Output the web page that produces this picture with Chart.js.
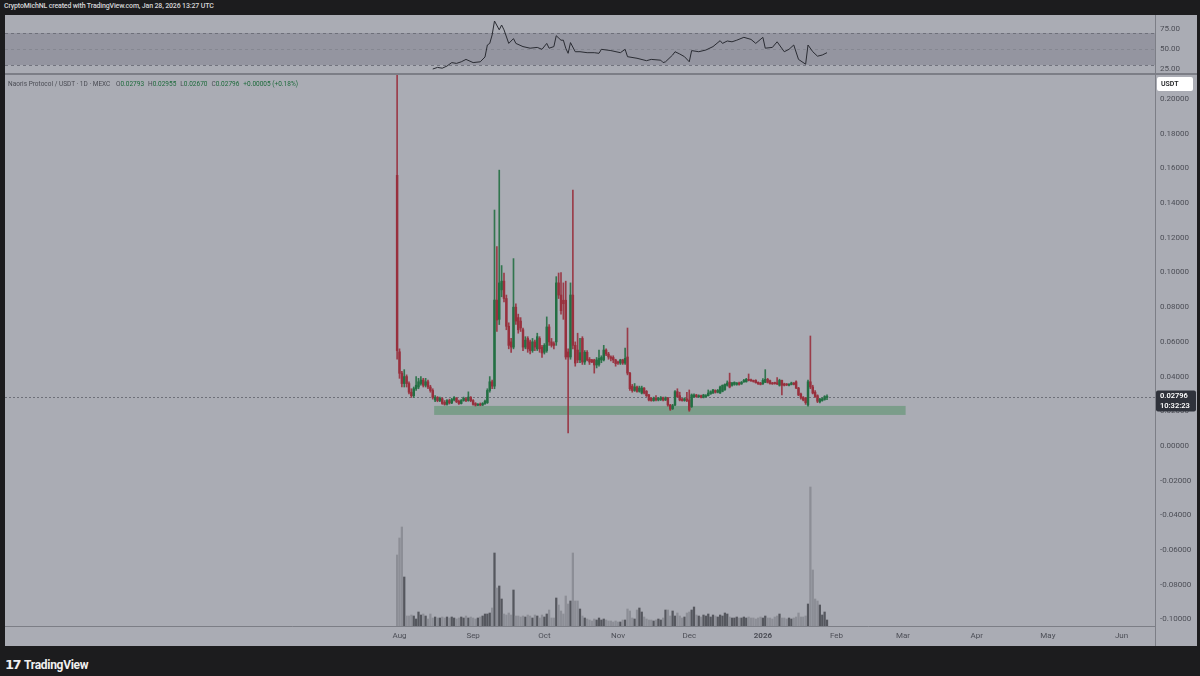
<!DOCTYPE html>
<html>
<head>
<meta charset="utf-8">
<script src="https://cdn.jsdelivr.net/npm/chart.js@4.4.1/dist/chart.umd.min.js"></script>
<style>
html,body{margin:0;padding:0;background:#1c1c1e;width:1200px;height:676px;overflow:hidden;font-family:Roboto,'Liberation Sans',sans-serif;}
#hdr{position:absolute;left:4px;top:2px;font-size:7px;letter-spacing:-0.15px;color:#d6d6d8;font-weight:500;white-space:nowrap;}
#rsiWrap{position:absolute;left:5px;top:15px;width:1192px;height:58px;}
#sep{position:absolute;left:5px;top:73px;width:1192px;height:2px;background:#7c7e86;}
#mainWrap{position:absolute;left:5px;top:75px;width:1192px;height:571px;}
#legend{position:absolute;left:8px;top:80px;font-size:6.5px;color:#4a4c54;white-space:nowrap;}
#legend .g{color:#1d6a3b;}
#legend .sp{display:inline-block;width:4px;}
#footer{position:absolute;left:5px;top:654px;color:#f0f0f0;white-space:nowrap;}
#footer .logo{font-family:'DejaVu Sans',sans-serif;font-weight:bold;font-size:13px;letter-spacing:-1.5px;vertical-align:middle;}
#footer .name{font-family:Roboto,sans-serif;font-weight:700;font-size:12px;letter-spacing:-0.3px;vertical-align:middle;margin-left:4px;}
canvas{display:block;}
</style>
</head>
<body>
<div id="hdr">CryptoMichNL created with TradingView.com, Jan 28, 2026 13:27 UTC</div>
<div id="rsiWrap"><canvas id="rsi" width="1192" height="58" style="width:1192px;height:58px"></canvas></div>
<div id="sep"></div>
<div id="mainWrap"><canvas id="main" width="1192" height="571" style="width:1192px;height:571px"></canvas></div>
<div id="legend">Naoris Protocol / USDT · 1D · MEXC<span class="sp"></span> O<span class="g">0.02793</span><span class="sp"></span>H<span class="g">0.02955</span><span class="sp"></span>L<span class="g">0.02670</span><span class="sp"></span>C<span class="g">0.02796</span><span class="sp"></span><span class="g">+0.00005 (+0.18%)</span></div>
<div id="footer"><span class="logo">17</span><span class="name">TradingView</span></div>
<script>
// ---------- DATA (daily candles, Jul 31 2025 .. Jan 28 2026; day 0 = Aug 1 2025) ----------
const firstDay = -1;
const open = [
 .156,.0543,.042,.036,.040,.036,.031,.029,.033,.034,
 .036,.038,.035,.037,.034,.032,.0265,.028,.0262,.0272,
 .0252,.024,.0262,.0248,.0266,.0275,.0258,.0245,.0262,.0272,
 .0262,.028,.0262,.0245,.0235,.0242,.0236,.0245,.025,.032,
 .037,.0345,.0841,.073,.090,.095,.085,.069,.060,.057,
 .080,.074,.072,.067,.057,.062,.060,.055,.060,.056,
 .062,.057,.054,.055,.0686,.060,.059,.060,.094,.087,
 .084,.084,.0542,.0513,.087,.058,.0553,.0496,.062,.0484,
 .054,.050,.0496,.0496,.0467,.047,.0496,.0496,.0553,.053,
 .0513,.051,.0496,.0484,.0478,.0496,.0478,.0513,.042,.0345,
 .032,.034,.0315,.0305,.0334,.0315,.0294,.0275,.0262,.0275,
 .0265,.0268,.0277,.0265,.0277,.0236,.0215,.0236,.0313,.029,
 .027,.0262,.0272,.0265,.0227,.0284,.0294,.0284,.029,.028,
 .0284,.029,.030,.0305,.032,.031,.0305,.0315,.0325,.035,
 .0368,.035,.0355,.0355,.0363,.0358,.037,.037,.0384,.038,
 .0376,.0378,.0367,.0363,.0358,.0367,.0384,.0376,.0363,.0365,
 .0363,.035,.0378,.0358,.0356,.035,.0355,.0363,.037,.0334,
 .030,.028,.0275,.0236,.037,.034,.031,.029,.0255,.0262,
 .0268,.02793
];
const high = [
 .22,.056,.043,.044,.041,.037,.033,.034,.040,.039,
 .040,.039,.039,.038,.035,.033,.029,.0285,.0282,.0278,
 .0262,.0268,.027,.0275,.0285,.028,.0265,.0268,.0282,.0278,
 .0312,.0285,.0268,.025,.0245,.0248,.025,.0265,.033,.040,
 .038,.136,.115,.159,.104,.0997,.087,.071,.062,.108,
 .082,.076,.074,.068,.063,.063,.061,.062,.061,.065,
 .063,.058,.059,.0744,.070,.062,.060,.0976,.0997,.100,
 .094,.095,.056,.094,.1475,.060,.065,.062,.063,.055,
 .055,.051,.050,.050,.051,.0553,.052,.058,.056,.054,
 .052,.052,.050,.049,.050,.050,.0565,.068,.0425,.0355,
 .036,.0345,.0345,.0345,.0336,.032,.0298,.028,.0282,.029,
 .028,.0285,.0282,.0283,.028,.024,.024,.032,.033,.031,
 .0275,.0278,.031,.0323,.030,.030,.0298,.0295,.0293,.0298,
 .0296,.0323,.0318,.0326,.0324,.0326,.0345,.0352,.0358,.0375,
 .042,.0367,.037,.0366,.0368,.0372,.0384,.039,.0415,.0386,
 .038,.0382,.037,.0367,.0388,.044,.039,.038,.0367,.0368,
 .0395,.0385,.038,.0362,.036,.036,.0368,.0366,.0375,.0338,
 .0305,.0285,.028,.038,.0634,.035,.032,.0295,.0275,.0278,
 .029,.02955
];
const low = [
 .050,.039,.034,.034,.034,.030,.028,.028,.032,.033,
 .035,.034,.034,.033,.031,.027,.0255,.0255,.0255,.024,
 .0235,.0236,.0242,.0244,.026,.025,.024,.0242,.0258,.0255,
 .0258,.0255,.0235,.023,.0232,.0232,.0233,.024,.0245,.031,
 .033,.033,.066,.070,.086,.083,.067,.056,.054,.056,
 .070,.065,.066,.055,.056,.054,.053,.054,.055,.055,
 .054,.051,.053,.054,.058,.057,.056,.058,.085,.076,
 .073,.050,.0075,.050,.056,.046,.048,.048,.047,.047,
 .049,.047,.048,.042,.045,.046,.048,.049,.052,.050,
 .049,.048,.046,.047,.047,.047,.047,.041,.032,.031,
 .0315,.031,.031,.030,.030,.0285,.026,.0258,.0258,.026,
 .026,.0262,.026,.0262,.023,.0205,.021,.0232,.028,.026,
 .0258,.0258,.0255,.020,.0222,.028,.028,.028,.0277,.0277,
 .0282,.0288,.0298,.0303,.0305,.0306,.0303,.0312,.032,.0345,
 .0335,.0345,.035,.035,.035,.0355,.0366,.0368,.0375,.0372,
 .0368,.0362,.0355,.0352,.0355,.0365,.0363,.0357,.0355,.0356,
 .0354,.0345,.0295,.0346,.0348,.0346,.0352,.0352,.033,.029,
 .027,.026,.024,.023,.033,.030,.028,.025,.0248,.0258,
 .0264,.0267
];
const close = [
 .055,.0419,.036,.040,.036,.031,.029,.033,.035,.037,
 .038,.035,.037,.034,.032,.028,.028,.0262,.0275,.0245,
 .024,.0262,.0248,.0268,.028,.0255,.0245,.0262,.0275,.0262,
 .0282,.0262,.024,.0235,.024,.0236,.0245,.0258,.032,.037,
 .0345,.0841,.0726,.094,.095,.085,.069,.058,.057,.080,
 .072,.067,.068,.057,.061,.056,.055,.060,.057,.063,
 .056,.0536,.058,.0686,.060,.058,.058,.094,.087,.078,
 .082,.0513,.0513,.087,.058,.0478,.0496,.0538,.0484,.054,
 .0496,.0484,.0484,.0467,.0496,.0505,.051,.0553,.053,.0513,
 .0505,.0496,.0475,.0478,.0496,.0478,.0505,.042,.033,.032,
 .034,.0315,.0334,.0334,.0305,.029,.0265,.0262,.0275,.0265,
 .0275,.0277,.0265,.0277,.0236,.0212,.0232,.0313,.0284,.0265,
 .0262,.0272,.0262,.0207,.0294,.0294,.0284,.029,.028,.0294,
 .029,.0305,.0313,.0323,.031,.032,.034,.035,.0355,.0363,
 .034,.0363,.0367,.0363,.0355,.0367,.0378,.0384,.0378,.0376,
 .0372,.0365,.0358,.0355,.0378,.0384,.0367,.036,.0358,.036,
 .0358,.0378,.035,.035,.0352,.0355,.0363,.0355,.0334,.0294,
 .0277,.0265,.025,.037,.034,.0305,.0285,.0258,.027,.0272,
 .0285,.02796
];
const volume = [
 71,88,99,49,10,10,11,10,7,14,
 11,12,10,7,12,8,9,8,8,9,
 8,9,8,9,8,7,8,9,8,10,
 8,9,8,7,8,9,10,12,12,13,
 18,73,38,40,27,12,11,13,11,36,
 10,10,9,10,9,11,10,8,11,10,
 8,11,9,12,16,8,8,28,21,15,
 12,30,22,25,73,25,25,17,10,8,
 7,6,5,7,6,8,6,7,6,5,
 5,4,5,4,4,6,6,17,15,8,
 7,16,18,14,9,7,6,6,5,6,
 7,6,8,16,16,10,15,10,13,10,
 8,9,13,14,16,19,11,10,9,11,
 10,12,9,11,10,9,11,10,13,12,
 9,8,8,9,8,8,9,8,9,8,
 8,7,8,9,8,10,8,8,7,9,
 10,12,8,8,7,8,7,8,9,13,
 9,9,10,22,139,56,27,25,21,11,
 14,6
];
// RSI(14)
const rsiDays = [14,16,18,20,22,24,26,28,31,34,36,37,38,39,40,42,43,44,46,48,49,52,55,58,60,62,63,65,66,68,69,70,71,72,74,76,79,82,84,85,89,93,95,96,100,104,106,110,111,112,115,116,118,120,122,123,126,129,132,135,136,138,140,142,145,148,150,153,154,157,159,162,164,166,168,171,172,174,176,178,180];
const rsiValues = [25,27,26,28.7,33,32,34,37,33,34,40,55,57,67.5,85,74,80,74,57,63,57,53,51,52,49.6,57,51,53,66.6,61,61,51,44.6,58,46.6,46.6,45.4,45.4,44.6,49.6,48,45.4,49.6,40.4,38.4,35.4,37,36,33,34,42.5,46.6,43.75,40.4,34,48,46.6,48.75,53,60.4,57,60,59,61,64.6,62,57,64.6,51,52,59,46.6,49.6,55,37,31,55,46.6,41,42.5,45.4];
const rsiLevels = [70, 50, 30];
const rsiTicks = [25, 50, 75];
// time axis: month starts (days from Aug 1 2025)
const monthDays = [0, 31, 61, 92, 122, 153, 184, 212, 243, 273, 304];
const monthLabels = ['Aug', 'Sep', 'Oct', 'Nov', 'Dec', '2026', 'Feb', 'Mar', 'Apr', 'May', 'Jun'];
const yearTickDay = 153;
// price axis
const priceTicks = [-0.10,-0.08,-0.06,-0.04,-0.02,0,0.02,0.04,0.06,0.08,0.10,0.12,0.14,0.16,0.18,0.20];
const lastPrice = 0.02796;
const countdown = '10:32:23';
// support zone (drawn box)
const zoneStart = 14.6, zoneEnd = 213.1, zoneLow = 0.0179, zoneHigh = 0.0231;

// ---------- STYLE ----------
const FONT = "Roboto, 'Liberation Sans', sans-serif";
const paneBg = '#aaacb4';
const sepColor = '#7c7e86';
const tickColor = '#4c4e56';
const upColor = '#236f43';
const downColor = '#98303d';
const volUp = '#55575e';
const volDown = '#8c8e96';
const xMin = -166.1, xMax = 318.1;
const yMin = -0.10375, yMax = 0.21383;

const days = open.map((_, i) => firstDay + i);
const isUp = i => close[i] >= open[i];

const fitV = s => { s.width = 42; s.paddingTop = 0; s.paddingBottom = 0; };
const fitH = s => { s.height = 20; s.paddingLeft = 0; s.paddingRight = 0; };

const bgPlugin = {
  id: 'paneBg',
  beforeDraw(c) {
    const ctx = c.ctx; ctx.save(); ctx.fillStyle = paneBg; ctx.fillRect(0, 0, c.width, c.height); ctx.restore();
  }
};

const mainOverlay = {
  id: 'mainOverlay',
  beforeDatasetsDraw(c) {
    const {ctx, chartArea: a, scales: {x, y}} = c;
    ctx.save();
    const x1 = x.getPixelForValue(zoneStart), x2 = x.getPixelForValue(zoneEnd);
    const y1 = y.getPixelForValue(zoneHigh), y2 = y.getPixelForValue(zoneLow);
    ctx.fillStyle = 'rgba(60,135,82,0.42)';
    ctx.fillRect(x1, y1, x2 - x1, y2 - y1);
    const py = Math.round(y.getPixelForValue(lastPrice)) + 0.5;
    ctx.strokeStyle = 'rgba(95,97,106,0.8)';
    ctx.lineWidth = 1; ctx.setLineDash([2, 2]);
    ctx.beginPath(); ctx.moveTo(a.left, py); ctx.lineTo(a.right, py); ctx.stroke();
    ctx.restore();
  },
  afterDraw(c) {
    const {ctx, chartArea: a, scales: {y}} = c;
    ctx.save();
    ctx.strokeStyle = sepColor; ctx.lineWidth = 1;
    ctx.beginPath(); ctx.moveTo(a.right + 0.5, a.bottom); ctx.lineTo(a.right + 0.5, c.height); ctx.stroke();
    ctx.fillStyle = '#ffffff';
    ctx.beginPath(); ctx.roundRect(a.right + 2, a.top + 2, 36, 14, 2); ctx.fill();
    ctx.fillStyle = '#222326'; ctx.font = '600 7px ' + FONT; ctx.textBaseline = 'middle'; ctx.textAlign = 'left';
    ctx.fillText('USDT', a.right + 6, a.top + 9.5);
    const py = y.getPixelForValue(lastPrice);
    ctx.fillStyle = '#2f323b';
    ctx.beginPath(); ctx.roundRect(a.right + 1, py - 7, 40, 21, 2); ctx.fill();
    ctx.fillStyle = '#ffffff'; ctx.font = '600 7.5px ' + FONT;
    ctx.fillText(lastPrice.toFixed(5), a.right + 5, py - 1);
    ctx.fillText(countdown, a.right + 5, py + 8.5);
    ctx.restore();
  }
};

const rsiOverlay = {
  id: 'rsiOverlay',
  beforeDatasetsDraw(c) {
    const {ctx, chartArea: a, scales: {y}} = c;
    ctx.save();
    const yt = y.getPixelForValue(rsiLevels[0]), yb = y.getPixelForValue(rsiLevels[2]);
    ctx.fillStyle = 'rgba(60,62,78,0.2)';
    ctx.fillRect(a.left, yt, a.right - a.left, yb - yt);
    ctx.setLineDash([3, 3]); ctx.lineWidth = 1;
    rsiLevels.forEach((lv, k) => {
      const py = Math.round(y.getPixelForValue(lv)) + 0.5;
      ctx.strokeStyle = k === 1 ? 'rgba(100,102,112,0.3)' : 'rgba(100,102,112,0.8)';
      ctx.beginPath(); ctx.moveTo(a.left, py); ctx.lineTo(a.right, py); ctx.stroke();
    });
    ctx.restore();
  }
};

const common = {
  responsive: false, animation: false, devicePixelRatio: 1, events: [],
  layout: {padding: 0, autoPadding: false},
  plugins: {legend: {display: false}, tooltip: {enabled: false}}
};

new Chart(document.getElementById('rsi'), {
  type: 'line',
  data: {datasets: [{
    data: rsiDays.map((d, i) => ({x: d, y: rsiValues[i]})),
    borderColor: '#2a2c33', borderWidth: 1, pointRadius: 0, tension: 0
  }]},
  options: Object.assign({}, common, {
    scales: {
      x: {type: 'linear', min: xMin, max: xMax, display: false, offset: false},
      y: {
        position: 'right', min: 20, max: 92.5,
        grid: {display: false, drawTicks: false},
        border: {display: true, color: sepColor, width: 1},
        afterBuildTicks: s => { s.ticks = rsiTicks.map(v => ({value: v})); },
        afterFit: fitV,
        ticks: {padding: 5, color: tickColor, font: {family: FONT, size: 8}, callback: v => Number(v).toFixed(2)}
      }
    }
  }),
  plugins: [bgPlugin, rsiOverlay]
});

new Chart(document.getElementById('main'), {
  type: 'bar',
  data: {datasets: [
    {
      label: 'Bodies', order: 1, grouped: false, yAxisID: 'y',
      data: days.map((d, i) => ({x: d, y: [open[i], close[i]]})),
      backgroundColor: ctx => isUp(ctx.dataIndex) ? upColor : downColor,
      barThickness: 1.8, minBarLength: 1, borderWidth: 0, borderSkipped: false
    },
    {
      label: 'Wicks', order: 2, grouped: false, yAxisID: 'y',
      data: days.map((d, i) => ({x: d, y: [low[i], high[i]]})),
      backgroundColor: ctx => isUp(ctx.dataIndex) ? 'rgba(35,111,67,0.9)' : 'rgba(152,48,61,0.9)',
      barThickness: 1, borderWidth: 0, borderSkipped: false
    },
    {
      label: 'Volume', order: 3, grouped: false, yAxisID: 'yVol',
      data: days.map((d, i) => ({x: d, y: volume[i]})),
      backgroundColor: ctx => isUp(ctx.dataIndex) ? volUp : volDown,
      barThickness: 1.6, borderWidth: 0
    }
  ]},
  options: Object.assign({}, common, {
    scales: {
      x: {
        type: 'linear', min: xMin, max: xMax, position: 'bottom', offset: false,
        grid: {display: false, drawTicks: false, offset: false},
        border: {display: true, color: sepColor, width: 1},
        afterBuildTicks: s => { s.ticks = monthDays.map(v => ({value: v})); },
        afterFit: fitH,
        ticks: {
          autoSkip: false, maxRotation: 0, padding: 5, color: tickColor,
          font: ctx => ({family: FONT, size: 8, weight: (ctx.tick && ctx.tick.value === yearTickDay) ? 'bold' : 'normal'}),
          callback: v => { const k = monthDays.indexOf(v); return k >= 0 ? monthLabels[k] : ''; }
        }
      },
      y: {
        position: 'right', min: yMin, max: yMax,
        grid: {display: false, drawTicks: false},
        border: {display: true, color: sepColor, width: 1},
        afterBuildTicks: s => { s.ticks = priceTicks.map(v => ({value: v})); },
        afterFit: fitV,
        ticks: {padding: 5, color: tickColor, font: {family: FONT, size: 8}, callback: v => Number(v).toFixed(5)}
      },
      yVol: {display: false, min: 0, max: 551}
    }
  }),
  plugins: [bgPlugin, mainOverlay]
});
</script>
</body>
</html>
